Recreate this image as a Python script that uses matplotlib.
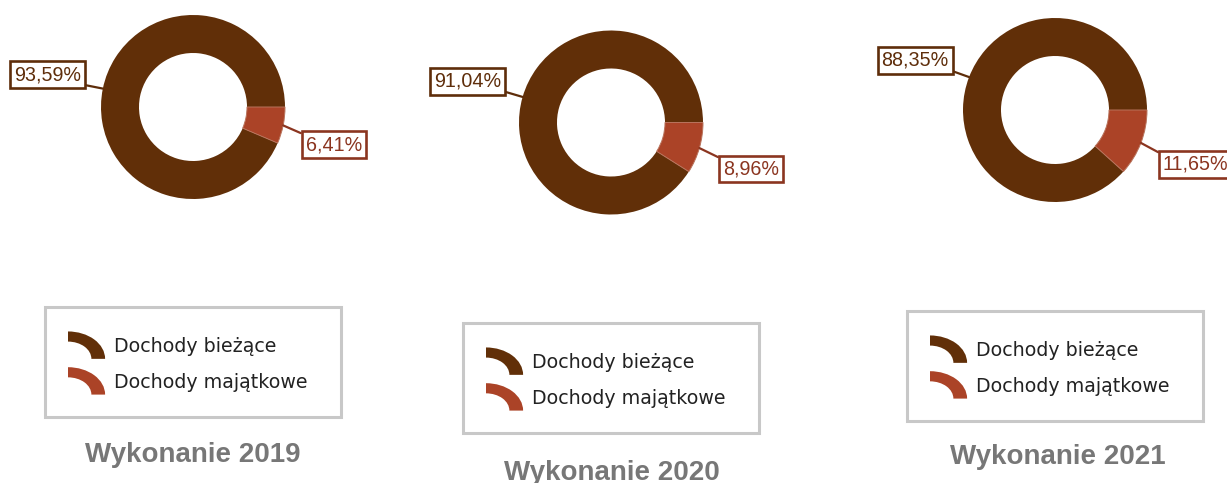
import numpy as np
import matplotlib
matplotlib.use("Agg")
import matplotlib.pyplot as plt
from matplotlib.patches import Wedge, Rectangle, Patch
from matplotlib.legend_handler import HandlerBase
from matplotlib.transforms import Affine2D

# ---------------- data ----------------
categories = ["Dochody bieżące", "Dochody majątkowe"]
years = ["Wykonanie 2019", "Wykonanie 2020", "Wykonanie 2021"]
biezace = [93.59, 91.04, 88.35]
majatkowe = [6.41, 8.96, 11.65]

# ---------------- style ----------------
COL_BROWN = "#612F08"
COL_RED = "#AB4327"
LBL_BROWN = "#5E2D0A"
LBL_RED = "#8B3520"
FRAME = "#C8C8C8"
TITLE_COL = "#777777"

W, H = 1227, 483
fig = plt.figure(figsize=(W / 100, H / 100), dpi=100)
fig.patch.set_facecolor("white")


def fx(x):
    return x / W


def fy(y):
    return 1 - y / H


# layout (pixels)
centers = [(193, 107), (611, 122.5), (1055, 110)]
R_PX = 92
left_lbl = [(-1.58, 0.35), (-1.56, 0.45), (-1.52, 0.54)]
right_lbl = [(1.53, -0.41), (1.52, -0.505), (1.53, -0.59)]
legend_boxes = [(45, 307), (463, 323), (907, 311)]
BOX_W, BOX_H = 296, 110
title_pos = [(193, 455.5), (612, 472.5), (1058, 457)]
LEG_FS = 13.7


class ArcHandler(HandlerBase):
    def create_artists(self, legend, orig_handle, xdescent, ydescent,
                       width, height, fontsize, trans):
        ih = 1.44 * fontsize           # icon height (points)
        yc = 0.36 * fontsize           # icon vertical centre above baseline
        w = Wedge((0, 0), 1, 0, 90, width=0.37,
                  facecolor=orig_handle.get_facecolor(), edgecolor="none")
        w.set_transform(Affine2D().scale(width, ih)
                        .translate(-xdescent, yc - ih / 2) + trans)
        return [w]


half = 120
lim = half / R_PX
for i, (cx, cy) in enumerate(centers):
    ax = fig.add_axes([fx(cx - half), fy(cy + half), half * 2 / W, half * 2 / H])
    vals = [biezace[i], majatkowe[i]]
    wedges, _ = ax.pie(vals, colors=[COL_BROWN, COL_RED], startangle=0,
                       counterclock=True, radius=1,
                       wedgeprops=dict(width=0.413, edgecolor="none"))
    ax.set_xlim(-lim, lim)
    ax.set_ylim(-lim, lim)
    ax.set_aspect("equal")
    ax.axis("off")
    wedges[1].set_edgecolor("#B8735C")
    wedges[1].set_linewidth(0.7)

    for j, (wd, lp, col, relpos) in enumerate(zip(
            wedges, [left_lbl[i], right_lbl[i]], [LBL_BROWN, LBL_RED],
            [(1, 0), (0, 1)])):
        mid = np.deg2rad((wd.theta1 + wd.theta2) / 2)
        xy = (np.cos(mid), np.sin(mid))
        txt = f"{vals[j]:.2f}%".replace(".", ",")
        ax.annotate(txt, xy=xy, xytext=lp, ha="center", va="center",
                    fontsize=14.2, family="Liberation Sans", color=col,
                    bbox=dict(boxstyle="square,pad=0.2", fc="white",
                              ec=col, lw=1.9),
                    arrowprops=dict(arrowstyle="-", color=col, lw=1.6,
                                    relpos=relpos, shrinkA=0, shrinkB=0),
                    annotation_clip=False)

    # legend frame
    bx, by = legend_boxes[i]
    fig.patches.append(Rectangle((fx(bx), fy(by + BOX_H)), BOX_W / W, BOX_H / H,
                                 transform=fig.transFigure, fill=False,
                                 edgecolor=FRAME, linewidth=2.2))
    handles = [Patch(facecolor=COL_BROWN), Patch(facecolor=COL_RED)]
    fig.legend(handles, categories, loc="upper left",
               bbox_to_anchor=(fx(bx + 23), fy(by + 30)),
               bbox_transform=fig.transFigure,
               frameon=False, borderpad=0, borderaxespad=0,
               handlelength=1.95, handleheight=0.7, handletextpad=0.45,
               labelspacing=0.88,
               prop=dict(family="DejaVu Sans", size=LEG_FS),
               labelcolor="#222222",
               handler_map={Patch: ArcHandler()})

    tx, ty = title_pos[i]
    fig.text(fx(tx), fy(ty), years[i], ha="center", va="center",
             fontsize=20, fontweight="bold", family="Liberation Sans",
             color=TITLE_COL)

fig.savefig("out.png", dpi=100, facecolor="white")
